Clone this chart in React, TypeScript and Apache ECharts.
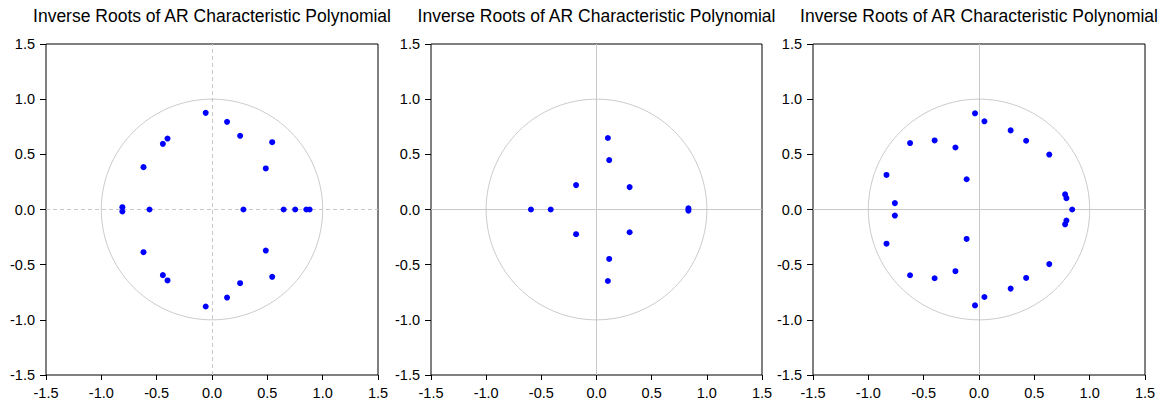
import React, { useEffect, useRef } from "react";
import * as echarts from "echarts";

const titles = [
  "Inverse Roots of AR Characteristic Polynomial",
  "Inverse Roots of AR Characteristic Polynomial",
  "Inverse Roots of AR Characteristic Polynomial",
];

const tickLabels = ["-1.5", "-1.0", "-0.5", "0.0", "0.5", "1.0", "1.5"];

// Panel 1 inverse roots [real, imaginary]
const roots1: [number, number][] = [
  [-0.057, 0.876], [0.136, 0.795], [0.254, 0.668], [0.544, 0.61], [0.486, 0.372],
  [-0.402, 0.643], [-0.444, 0.595], [-0.619, 0.384], [-0.81, 0.021], [-0.81, -0.018],
  [-0.565, 0], [0.284, 0], [0.647, 0], [0.752, 0], [0.852, 0], [0.882, 0],
  [-0.619, -0.387], [-0.444, -0.595], [-0.402, -0.643], [-0.057, -0.879],
  [0.136, -0.798], [0.254, -0.668], [0.544, -0.61], [0.486, -0.372],
];

// Panel 2 inverse roots
const roots2: [number, number][] = [
  [0.103, 0.648], [0.115, 0.448], [-0.185, 0.221], [0.3, 0.203],
  [-0.594, 0], [-0.415, 0], [0.833, 0.01], [0.833, -0.01],
  [-0.185, -0.224], [0.3, -0.206], [0.115, -0.448], [0.103, -0.648],
];

// Panel 3 inverse roots
const roots3: [number, number][] = [
  [-0.036, 0.872], [0.049, 0.799], [0.286, 0.717], [0.426, 0.623], [0.635, 0.498],
  [-0.623, 0.602], [-0.401, 0.626], [-0.213, 0.562], [-0.112, 0.274], [-0.836, 0.313],
  [-0.76, 0.058], [-0.76, -0.055], [-0.836, -0.31], [0.778, 0.137], [0.79, 0.103],
  [0.842, 0], [0.79, -0.1], [0.778, -0.134], [-0.112, -0.267], [-0.623, -0.596],
  [-0.401, -0.623], [-0.213, -0.559], [0.635, -0.495], [0.426, -0.62], [0.286, -0.717],
  [0.049, -0.793], [-0.036, -0.869],
];

const panels = [
  { roots: roots1, dashedZero: true },
  { roots: roots2, dashedZero: false },
  { roots: roots3, dashedZero: false },
];

const gridLayout = [
  { left: 46, width: 332 },
  { left: 431, width: 331 },
  { left: 813, width: 332 },
];

const FONT = "'Liberation Sans', Arial, sans-serif";

export default function App() {
  const ref = useRef<HTMLDivElement>(null);
  useEffect(() => {
    if (!ref.current) return;
    const chart = echarts.init(ref.current, undefined, { renderer: "svg" });
    const unitCircle: [number, number][] = [];
    for (let i = 0; i <= 360; i++) {
      const a = (i * Math.PI) / 180;
      unitCircle.push([Math.cos(a), Math.sin(a)]);
    }
    const top = 44;
    const height = 331;
    const grids = gridLayout.map((g) => ({
      left: g.left,
      width: g.width,
      top,
      height,
      show: true,
      borderColor: "#000",
      borderWidth: 1,
      backgroundColor: "transparent",
    }));
    const fmt = (v: number) => tickLabels[Math.round((v + 1.5) / 0.5)];
    const base = {
      type: "value" as const,
      min: -1.5,
      max: 1.5,
      interval: 0.5,
      splitLine: { show: false },
      axisLine: { show: false, onZero: false },
    };
    const xAxes = gridLayout.map((_, i) => ({
      ...base,
      gridIndex: i,
      position: "bottom",
      axisTick: { show: true, inside: false, length: 5, lineStyle: { color: "#000" } },
      axisLabel: { color: "#000", fontFamily: FONT, fontSize: 14.5, margin: 10, formatter: fmt },
    }));
    const yAxes = gridLayout.map((_, i) => ({
      ...base,
      gridIndex: i,
      position: "left",
      axisTick: { show: true, inside: false, length: 6, lineStyle: { color: "#000" } },
      axisLabel: { color: "#000", fontFamily: FONT, fontSize: 14.5, margin: 11, formatter: fmt },
    }));
    const series: any[] = [];
    panels.forEach((p, i) => {
      series.push({
        type: "line",
        xAxisIndex: i,
        yAxisIndex: i,
        data: unitCircle,
        showSymbol: false,
        symbol: "none",
        lineStyle: { color: "#c8c8c8", width: 1 },
        silent: true,
        z: 1,
        markLine: {
          silent: true,
          symbol: "none",
          z: 1,
          label: { show: false },
          lineStyle: { color: "#c8c8c8", width: 1, type: p.dashedZero ? [4, 3] : "solid" },
          data: [{ xAxis: 0 }, { yAxis: 0 }],
        },
      });
      series.push({
        type: "scatter",
        xAxisIndex: i,
        yAxisIndex: i,
        data: p.roots,
        symbol: "circle",
        symbolSize: 6,
        itemStyle: { color: "#0000ff", opacity: 1 },
        z: 5,
      });
    });
    chart.setOption({
      animation: false,
      title: titles.map((t, i) => ({
        text: t,
        left: gridLayout[i].left + gridLayout[i].width / 2 - 5,
        top: 2,
        textAlign: "center",
        textStyle: { fontFamily: FONT, fontSize: 17.5, fontWeight: "normal", color: "#000" },
      })),
      grid: grids,
      xAxis: xAxes,
      yAxis: yAxes,
      series,
    });
    return () => chart.dispose();
  }, []);
  return (
    <div
      ref={ref}
      style={{ position: "fixed", left: 0, top: 0, width: 1166, height: 405, background: "#fff" }}
    />
  );
}
